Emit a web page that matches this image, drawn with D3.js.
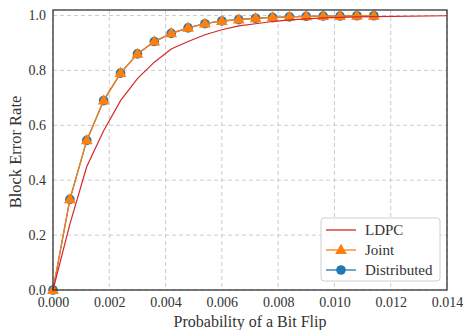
<!DOCTYPE html>
<html>
<head>
<meta charset="UTF-8">
<script src="https://d3js.org/d3.v7.min.js"></script>
<style>
  body { margin: 0; background: #fff; }
  svg { font-family: "Liberation Serif", "DejaVu Serif", serif; }
</style>
</head>
<body>
<div id="chart"></div>
<script>
// data
const flipProbs = [0, 0.0006, 0.0012, 0.0018, 0.0024, 0.003, 0.0036, 0.0042, 0.0048, 0.0054,
  0.006, 0.0066, 0.0072, 0.0078, 0.0084, 0.009, 0.0096, 0.0102, 0.0108, 0.0114];
const jointBER = [0, 0.33, 0.545, 0.69, 0.79, 0.86, 0.905, 0.935, 0.955, 0.97,
  0.98, 0.985, 0.99, 0.993, 0.995, 0.997, 0.998, 0.998, 0.999, 0.999];
const distBER = [0, 0.33, 0.545, 0.69, 0.79, 0.86, 0.905, 0.935, 0.955, 0.97,
  0.98, 0.985, 0.99, 0.993, 0.995, 0.997, 0.998, 0.998, 0.999, 0.999];
const ldpcProbs = [0, 0.0006, 0.0012, 0.0018, 0.0024, 0.003, 0.0036, 0.0042, 0.0048, 0.0054,
  0.006, 0.0066, 0.0072, 0.0078, 0.0084, 0.009, 0.0096, 0.0102, 0.0108, 0.0114, 0.014];
const ldpcBER = [0, 0.24, 0.45, 0.58, 0.69, 0.77, 0.83, 0.878, 0.905, 0.93,
  0.948, 0.962, 0.97, 0.978, 0.984, 0.988, 0.991, 0.993, 0.995, 0.996, 0.999];
const xTicks = [0, 0.002, 0.004, 0.006, 0.008, 0.010, 0.012, 0.014];
const yTicks = [0, 0.2, 0.4, 0.6, 0.8, 1.0];

const W = 463, H = 330;
const margin = { top: 10, right: 16, bottom: 40, left: 53 };
const width = W - margin.left - margin.right;
const height = H - margin.top - margin.bottom;

const svg = d3.select("#chart").append("svg")
  .attr("width", W).attr("height", H);
const g = svg.append("g").attr("transform", `translate(${margin.left},${margin.top})`);

const x = d3.scaleLinear().domain([0, 0.014]).range([0, width]);
const y = d3.scaleLinear().domain([0, 1.02]).range([height, 0]);

// grid
g.append("g").selectAll("line").data(xTicks).join("line")
  .attr("x1", d => x(d)).attr("x2", d => x(d))
  .attr("y1", 0).attr("y2", height)
  .attr("stroke", "#cccccc").attr("stroke-width", 1).attr("stroke-dasharray", "4,3");
g.append("g").selectAll("line").data(yTicks).join("line")
  .attr("x1", 0).attr("x2", width)
  .attr("y1", d => y(d)).attr("y2", d => y(d))
  .attr("stroke", "#cccccc").attr("stroke-width", 1).attr("stroke-dasharray", "4,3");

// axes (labels only)
const xAxis = g.append("g").attr("transform", `translate(0,${height})`)
  .call(d3.axisBottom(x).tickValues(xTicks).tickFormat(d3.format(".3f")).tickSize(0).tickPadding(7));
const yAxis = g.append("g")
  .call(d3.axisLeft(y).tickValues(yTicks).tickFormat(d3.format(".1f")).tickSize(0).tickPadding(7));
[xAxis, yAxis].forEach(a => {
  a.select(".domain").remove();
  a.selectAll("text").attr("font-size", 14).attr("fill", "#333")
    .attr("font-family", "Liberation Serif, serif");
});

const line = d3.line().x(d => x(d[0])).y(d => y(d[1]));
const dist = flipProbs.map((p, i) => [p, distBER[i]]);
const joint = flipProbs.map((p, i) => [p, jointBER[i]]);
const ldpc = ldpcProbs.map((p, i) => [p, ldpcBER[i]]);

const blue = "#1f77b4", orange = "#ff7f0e", red = "#d62728";

g.append("path").datum(dist).attr("d", line)
  .attr("fill", "none").attr("stroke", blue).attr("stroke-width", 1.3);
g.append("g").selectAll("circle").data(dist).join("circle")
  .attr("cx", d => x(d[0])).attr("cy", d => y(d[1])).attr("r", 4.8).attr("fill", blue);

const tri = d3.symbol().type(d3.symbolTriangle).size(60);
g.append("path").datum(joint).attr("d", line)
  .attr("fill", "none").attr("stroke", orange).attr("stroke-width", 1.3);
g.append("g").selectAll("path").data(joint).join("path")
  .attr("d", tri).attr("transform", d => `translate(${x(d[0])},${y(d[1]) + 0.5})`)
  .attr("fill", orange);

g.append("path").datum(ldpc).attr("d", line)
  .attr("fill", "none").attr("stroke", red).attr("stroke-width", 1.2);

// frame
g.append("rect").attr("width", width).attr("height", height)
  .attr("fill", "none").attr("stroke", "#333").attr("stroke-width", 1.3);

// axis titles
svg.append("text").attr("x", margin.left + width / 2).attr("y", 327)
  .attr("text-anchor", "middle").attr("font-size", 16).attr("fill", "#333")
  .text("Probability of a Bit Flip");
svg.append("text").attr("transform", `translate(21,${margin.top + height / 2 + 2}) rotate(-90)`)
  .attr("text-anchor", "middle").attr("font-size", 16.5).attr("fill", "#333")
  .text("Block Error Rate");

// legend
const legend = svg.append("g").attr("transform", "translate(321,218)");
legend.append("rect").attr("width", 119).attr("height", 63).attr("rx", 3)
  .attr("fill", "white").attr("fill-opacity", 0.85).attr("stroke", "#d0d0d0");
const items = [
  { name: "LDPC", color: red, mark: null },
  { name: "Joint", color: orange, mark: "tri" },
  { name: "Distributed", color: blue, mark: "circle" }
];
items.forEach((it, i) => {
  const row = legend.append("g").attr("transform", `translate(0,${12 + i * 20})`);
  row.append("line").attr("x1", 5).attr("x2", 35).attr("stroke", it.color).attr("stroke-width", 1.3);
  if (it.mark === "tri") row.append("path").attr("d", tri).attr("transform", "translate(20,0.5)").attr("fill", it.color);
  if (it.mark === "circle") row.append("circle").attr("cx", 20).attr("r", 4.8).attr("fill", it.color);
  row.append("text").attr("x", 44).attr("y", 5).attr("font-size", 15).attr("fill", "#333").text(it.name);
});
</script>
</body>
</html>
